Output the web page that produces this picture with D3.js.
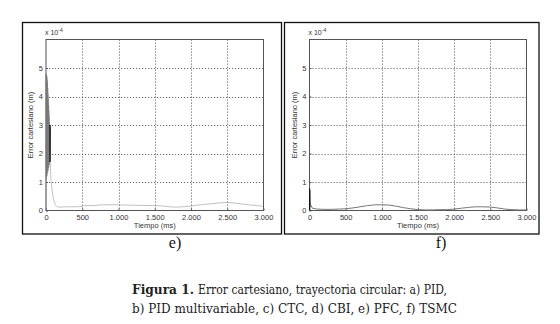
<!DOCTYPE html>
<html><head><meta charset="utf-8">
<script src="https://cdn.jsdelivr.net/npm/d3@7"></script>
<style>body{margin:0;background:#fff}svg{display:block}</style>
</head><body>
<script>
// ---- data (error in units of 1e-4 m, time in ms) ----
const xTicks = [0, 500, 1000, 1500, 2000, 2500, 3000];
const xTickLabels = ["0", "500", "1.000", "1.500", "2.000", "2.500", "3.000"];
const yTicks = [0, 1, 2, 3, 4, 5];
const yTickLabels = ["0", "1", "2", "3", "4", "5"];

// e) PFC
const eTime = [0,1,3,5,7,9,11,13,15,17,19,21,23,25,27,29,31,33,35,37,39,41,43,45,47,49,51,53,55,57,59,61,65,70,80,90,100,115,130,150,170,200,300,400,500,520,600,700,750,900,1000,1100,1300,1500,1600,1700,1800,1900,2000,2100,2200,2300,2400,2500,2600,2700,2800,2900,3000];
const eErr  = [0,4.8,1.2,4.8,1.1,4.75,1.3,4.7,1.2,4.6,1.4,4.5,1.3,4.3,1.5,4.1,1.4,3.9,1.6,3.7,1.5,3.5,1.7,3.3,1.6,3.1,1.8,3.0,1.7,3.0,1.7,1.5,1.25,1.05,0.8,0.6,0.45,0.3,0.2,0.14,0.12,0.12,0.13,0.13,0.14,0.17,0.17,0.18,0.2,0.2,0.2,0.19,0.18,0.17,0.16,0.13,0.12,0.13,0.16,0.19,0.22,0.24,0.27,0.28,0.26,0.23,0.2,0.17,0.15];
const eDarkTime = [54,55,56,57,58];
const eDarkErr  = [3.0,1.7,3.0,1.7,2.9];

// f) TSMC
const fTime = [0,4,6,8,10,20,40,100,200,300,400,500,600,700,800,900,1000,1100,1200,1300,1400,1500,1600,1700,1800,1900,2000,2100,2200,2300,2400,2500,2600,2700,2800,2900,3000];
const fErr  = [0,0.1,0.7,0.15,0.25,0.18,0.08,0.05,0.04,0.04,0.05,0.06,0.09,0.13,0.17,0.2,0.2,0.19,0.15,0.1,0.06,0.03,0.02,0.02,0.03,0.03,0.05,0.08,0.11,0.13,0.13,0.12,0.09,0.05,0.03,0.02,0.02];
const fDarkTime = [0,2,4];
const fDarkErr  = [0,0.78,0.1];

const panelLabels = ["e)", "f)"];
const captionBold = "Figura 1.";
const captionRest = "Error cartesiano, trayectoria circular: a) PID,";
const captionLine2 = "b) PID multivariable, c) CTC, d) CBI, e) PFC, f) TSMC";

// ---- drawing ----
const svg = d3.select("body").append("svg").attr("width", 560).attr("height", 324);
const sans = "'Liberation Sans', Arial, sans-serif";
const serif = "'DejaVu Serif', 'Liberation Serif', serif";
const serif2 = "'Liberation Serif', 'Times New Roman', serif";

function panel(cfg) {
  const g = svg.append("g");
  g.append("rect").attr("x", cfg.fx).attr("y", 22.5).attr("width", cfg.fw).attr("height", 211.5)
    .attr("fill", "none").attr("stroke", "#111").attr("stroke-width", 1.3);
  const x = d3.scaleLinear().domain([0, 3000]).range([cfg.x0, cfg.x1]);
  const y = d3.scaleLinear().domain([0, 6]).range([210.5, 39.5]);

  // grid
  g.selectAll(".gx").data(xTicks.slice(1, -1)).enter().append("line")
    .attr("x1", d => Math.round(x(d)) + 0.5).attr("x2", d => Math.round(x(d)) + 0.5)
    .attr("y1", y(6)).attr("y2", y(0))
    .attr("stroke", "#444").attr("stroke-width", 0.8).attr("stroke-dasharray", "1.2,1.8");
  g.selectAll(".gy").data(yTicks.slice(1)).enter().append("line")
    .attr("y1", d => Math.round(y(d)) + 0.5).attr("y2", d => Math.round(y(d)) + 0.5)
    .attr("x1", x(0)).attr("x2", x(3000))
    .attr("stroke", "#444").attr("stroke-width", 0.8).attr("stroke-dasharray", "1.2,1.8");

  // axes box
  g.append("rect").attr("x", x(0)).attr("y", y(6)).attr("width", x(3000) - x(0)).attr("height", y(0) - y(6))
    .attr("fill", "none").attr("stroke", "#555").attr("stroke-width", 1);

  // axes with labels
  const xa = d3.axisBottom(x).tickValues(xTicks).tickFormat((d, i) => xTickLabels[i]).tickSizeInner(-2).tickSizeOuter(0).tickPadding(4);
  const gx = g.append("g").attr("transform", `translate(0,${y(0)})`).call(xa);
  const ya = d3.axisLeft(y).tickValues(yTicks).tickFormat((d, i) => yTickLabels[i]).tickSizeInner(-2).tickSizeOuter(0).tickPadding(3);
  const gy = g.append("g").attr("transform", `translate(${x(0)},0)`).call(ya);
  [gx, gy].forEach(a => {
    a.select(".domain").remove();
    a.selectAll("line").attr("stroke", "#555");
    a.selectAll("text").attr("font-family", sans).attr("font-size", 7.5).attr("fill", "#333");
  });

  // exponent label
  const ex = g.append("text").attr("x", x(0) - 1).attr("y", 35).attr("font-family", sans).attr("font-size", 7).attr("fill", "#333");
  ex.append("tspan").text("x 10");
  ex.append("tspan").attr("dy", -3).attr("font-size", 5).text("-4");

  g.append("text").attr("x", (x(0) + x(3000)) / 2).attr("y", 227.5).attr("text-anchor", "middle")
    .attr("font-family", sans).attr("font-size", 7.5).attr("fill", "#333").text("Tiempo (ms)");
  g.append("text").attr("transform", `translate(${x(0) - 13},${(y(0) + y(6)) / 2}) rotate(-90)`)
    .attr("text-anchor", "middle").attr("font-family", sans).attr("font-size", 7.5).attr("fill", "#333")
    .text("Error cartesiano (m)");

  const line = d3.line().x(d => x(d[0])).y(d => y(d[1]));
  const main = cfg.t.map((t, i) => [t, cfg.v[i]]);
  g.append("path").attr("d", line(main)).attr("fill", "none").attr("stroke", "#777").attr("stroke-width", cfg.w);
  const dark = cfg.dt.map((t, i) => [t, cfg.dv[i]]);
  g.append("path").attr("d", line(dark)).attr("fill", "none").attr("stroke", "#111").attr("stroke-width", 1.1);

  svg.append("text").attr("x", cfg.lx).attr("y", 248).attr("text-anchor", "middle")
    .attr("font-family", serif2).attr("font-size", 16).attr("fill", "#111").text(cfg.label);
}

panel({fx: 22.5, fw: 259, x0: 46, x1: 263.5, t: eTime, v: eErr, dt: eDarkTime, dv: eDarkErr, lx: 175, label: panelLabels[0], w: 0.45});
panel({fx: 284.5, fw: 254.5, x0: 309.5, x1: 526.5, t: fTime, v: fErr, dt: fDarkTime, dv: fDarkErr, lx: 441, label: panelLabels[1], w: 1});

// caption
svg.append("text").attr("x", 132).attr("y", 294).attr("font-family", serif).attr("font-size", 12.5)
  .attr("font-weight", "bold").attr("fill", "#222")
  .attr("textLength", 62).attr("lengthAdjust", "spacingAndGlyphs").text(captionBold);
svg.append("text").attr("x", 198).attr("y", 294).attr("font-family", serif).attr("font-size", 12.5).attr("fill", "#222")
  .attr("textLength", 249).attr("lengthAdjust", "spacingAndGlyphs").text(captionRest);
svg.append("text").attr("x", 132).attr("y", 313).attr("font-family", serif).attr("font-size", 12.5).attr("fill", "#222")
  .attr("textLength", 325).attr("lengthAdjust", "spacingAndGlyphs").text(captionLine2);
</script>
</body></html>
